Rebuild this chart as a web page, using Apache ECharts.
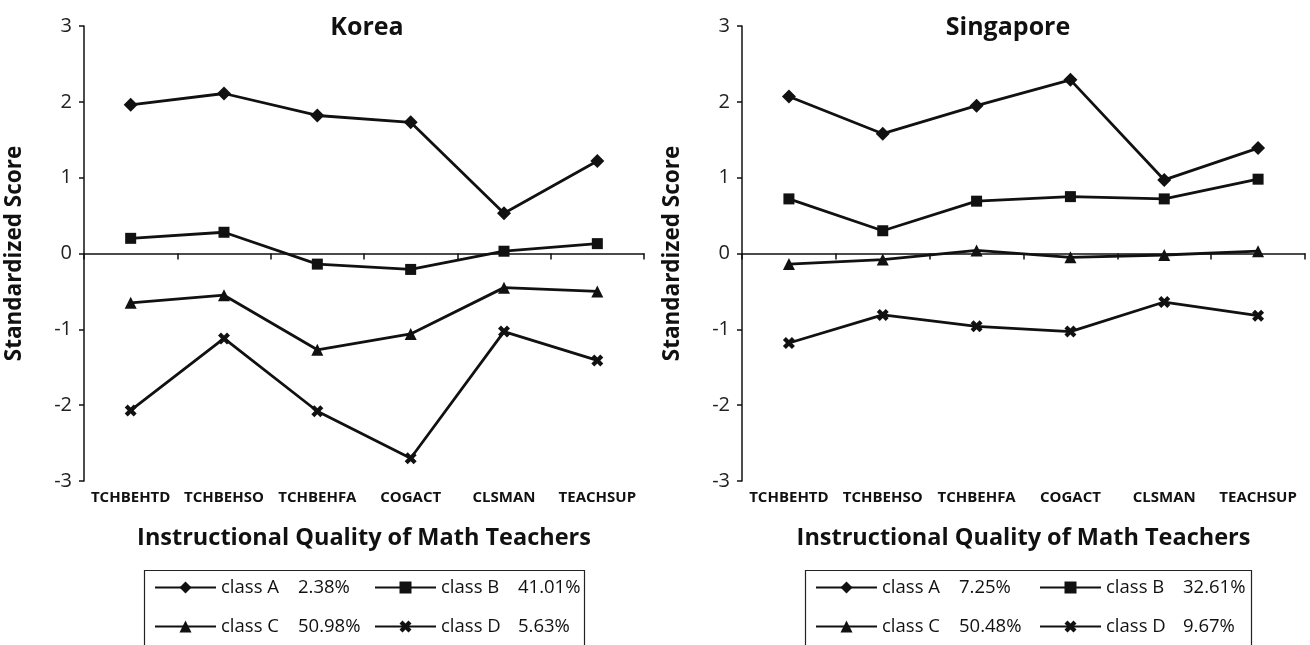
<!DOCTYPE html>
<html>
<head>
<meta charset="utf-8">
<script src="https://cdn.jsdelivr.net/npm/echarts@6/dist/echarts.min.js"></script>
<style>
html,body{margin:0;padding:0;background:#fff;}
#chart{width:1310px;height:645px;}
</style>
</head>
<body>
<div id="chart"></div>
<script>
// ---- data ----
const categories = ['TCHBEHTD', 'TCHBEHSO', 'TCHBEHFA', 'COGACT', 'CLSMAN', 'TEACHSUP'];
const classNames = ['class A', 'class B', 'class C', 'class D'];

const koreaA = [1.96, 2.11, 1.82, 1.73, 0.53, 1.22];
const koreaB = [0.20, 0.28, -0.14, -0.21, 0.03, 0.13];
const koreaC = [-0.65, -0.55, -1.27, -1.06, -0.45, -0.50];
const koreaD = [-2.07, -1.12, -2.08, -2.70, -1.03, -1.41];
const koreaPct = ['2.38%', '41.01%', '50.98%', '5.63%'];

const singA = [2.07, 1.58, 1.95, 2.29, 0.97, 1.39];
const singB = [0.72, 0.30, 0.69, 0.75, 0.72, 0.98];
const singC = [-0.14, -0.08, 0.04, -0.05, -0.02, 0.03];
const singD = [-1.18, -0.81, -0.96, -1.03, -0.64, -0.82];
const singPct = ['7.25%', '32.61%', '50.48%', '9.67%'];

const yTicks = { min: -3, max: 3, interval: 1 };

// ---- styles ----
const INK = '#111';
const FONT = "'Open Sans', 'Noto Sans', sans-serif";
const xMark = 'path://M0,3 L3,0 L6,3 L9,0 L12,3 L9,6 L12,9 L9,12 L6,9 L3,12 L0,9 L3,6 Z';
const symbols = ['diamond', 'rect', 'triangle', xMark];
const symSizes = [14, 11, 12, 12];

const panels = [
  { key: 'K', title: 'Korea', data: [koreaA, koreaB, koreaC, koreaD], pct: koreaPct,
    gridLeft: 84, gridWidth: 560, titleX: 362, legendLeft: 142, boxW: 440, colSpan: 220 },
  { key: 'S', title: 'Singapore', data: [singA, singB, singC, singD], pct: singPct,
    gridLeft: 742, gridWidth: 563, titleX: 1003, legendLeft: 803, boxW: 446, colSpan: 224 }
];

const option = {
  backgroundColor: '#fff',
  animation: false,
  title: [], grid: [], xAxis: [], yAxis: [], series: [], legend: [], graphic: []
};

panels.forEach((p, i) => {
  option.title.push({
    text: p.title, left: p.titleX, top: 10, textAlign: 'center',
    textStyle: { fontFamily: FONT, fontSize: 25, fontWeight: 'bold', color: INK }
  });
  option.grid.push({ left: p.gridLeft, width: p.gridWidth, top: 26, height: 455 });
  option.xAxis.push({
    type: 'category', gridIndex: i, data: categories, boundaryGap: true,
    name: 'Instructional Quality of Math Teachers', nameLocation: 'middle', nameGap: 45,
    nameTextStyle: { fontFamily: FONT, fontSize: 23.5, fontWeight: 'bold', color: INK },
    axisLine: { lineStyle: { color: INK, width: 1.5 } },
    axisTick: { show: true, length: 6, lineStyle: { color: INK, width: 1.5 } },
    axisLabel: { fontFamily: FONT, fontSize: 15, fontWeight: 'bold', color: INK, margin: 9, interval: 0 },
    splitLine: { show: false }
  });
  option.yAxis.push({
    type: 'value', gridIndex: i, min: yTicks.min, max: yTicks.max, interval: yTicks.interval,
    name: 'Standardized Score', nameLocation: 'middle', nameGap: 58,
    nameTextStyle: { fontFamily: FONT, fontSize: 22.5, fontWeight: 'bold', color: INK },
    axisLine: { show: true, lineStyle: { color: INK, width: 1.5 } },
    axisTick: { show: true, length: 5, lineStyle: { color: INK, width: 1.5 } },
    axisLabel: { fontFamily: FONT, fontSize: 20, color: '#222', margin: 12 },
    splitLine: { show: false }
  });
  const names = [];
  p.data.forEach((vals, k) => {
    const nm = p.key + '|' + k;
    names.push(nm);
    option.series.push({
      name: nm, type: 'line', xAxisIndex: i, yAxisIndex: i, data: vals,
      symbol: symbols[k], symbolSize: symSizes[k], showSymbol: true,
      lineStyle: { color: INK, width: 2.8 },
      itemStyle: { color: INK },
      emphasis: { disabled: true }
    });
  });
  // legend box
  option.graphic.push({
    type: 'rect', left: p.legendLeft, top: 568, silent: true,
    shape: { width: p.boxW, height: 100 },
    style: { fill: 'none', stroke: '#222', lineWidth: 1.2 }
  });
  // one legend per item, in a 2x2 layout
  names.forEach((nm, k) => {
    option.legend.push({
      data: [nm],
      left: p.legendLeft + 12 + (k % 2) * p.colSpan,
      top: 578 + Math.floor(k / 2) * 39,
      orient: 'horizontal', itemWidth: 61, itemHeight: 15,
      padding: 0, selectedMode: false,
      formatter: () => '{a|' + classNames[k] + '}{b|' + p.pct[k] + '}',
      textStyle: {
        color: INK, fontFamily: FONT, fontSize: 18.5,
        rich: {
          a: { width: 77, fontFamily: FONT, fontSize: 18.5, color: INK },
          b: { fontFamily: FONT, fontSize: 18.5, color: INK }
        }
      }
    });
  });
});

const chart = echarts.init(document.getElementById('chart'), null, { renderer: 'canvas' });
chart.setOption(option);
</script>
</body>
</html>
